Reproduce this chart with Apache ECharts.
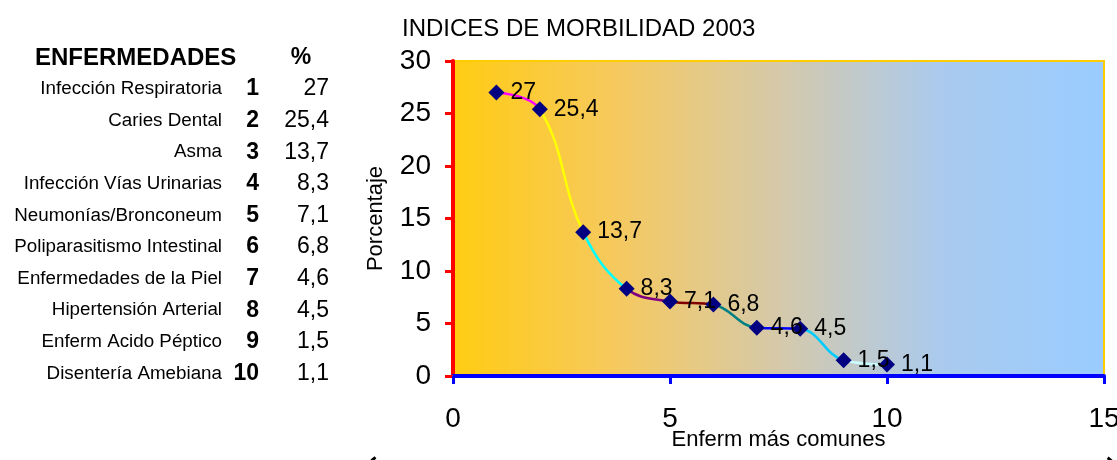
<!DOCTYPE html>
<html>
<head>
<meta charset="utf-8">
<script src="https://cdn.jsdelivr.net/npm/echarts@6/dist/echarts.min.js"></script>
<style>
    html, body { margin: 0; padding: 0; background: #fff; }
    #chart { width: 1117px; height: 460px; }
</style>
</head>
<body>
<div id="chart"></div>
<script>
// tabla de enfermedades
var enfermedades = ['Infección Respiratoria', 'Caries Dental', 'Asma', 'Infección Vías Urinarias',
    'Neumonías/Bronconeum', 'Poliparasitismo Intestinal', 'Enfermedades de la Piel',
    'Hipertensión Arterial', 'Enferm Acido Péptico', 'Disentería Amebiana'];
var rangos = [1, 2, 3, 4, 5, 6, 7, 8, 9, 10];
var porcentajes = [27, 25.4, 13.7, 8.3, 7.1, 6.8, 4.6, 4.5, 1.5, 1.1];
// colores de cada tramo de la curva
var coloresTramo = ['#FF00FF', '#FFFF00', '#00FFFF', '#800080', '#800000', '#008080', '#0000FF', '#00CCFF', '#CCFFFF'];
var xTicks = [0, 5, 10, 15];
var yTicks = [0, 5, 10, 15, 20, 25, 30];

var FONT = '"Liberation Sans", Arial, sans-serif';
function coma(v) { return String(v).replace('.', ','); }

var puntos = rangos.map(function (r, i) { return [r, porcentajes[i]]; });

// texto de la tabla
var tabla = [
    { type: 'text', x: 35, y: 58, style: { text: 'ENFERMEDADES', font: 'bold 24px ' + FONT, fill: '#000', verticalAlign: 'middle' } },
    { type: 'text', x: 301, y: 58, style: { text: '%', font: 'bold 23px ' + FONT, fill: '#000', align: 'center', verticalAlign: 'middle' } }
];
enfermedades.forEach(function (nombre, i) {
    var y = 89 + i * 31.6;
    tabla.push({ type: 'text', x: 222, y: y, style: { text: nombre, font: '18.8px ' + FONT, fill: '#000', align: 'right', verticalAlign: 'middle' } });
    tabla.push({ type: 'text', x: 259, y: y, style: { text: String(rangos[i]), font: 'bold 23px ' + FONT, fill: '#000', align: 'right', verticalAlign: 'middle' } });
    tabla.push({ type: 'text', x: 329, y: y, style: { text: coma(porcentajes[i]), font: '23px ' + FONT, fill: '#000', align: 'right', verticalAlign: 'middle' } });
});
// restos del borde redondeado
tabla.push({ type: 'arc', shape: { cx: 392, cy: 480, r: 28, startAngle: Math.PI * 1.05, endAngle: Math.PI * 1.3 }, style: { stroke: '#000', lineWidth: 3, fill: null } });
tabla.push({ type: 'arc', shape: { cx: 1090, cy: 482, r: 30, startAngle: Math.PI * 1.7, endAngle: Math.PI * 1.95 }, style: { stroke: '#000', lineWidth: 3, fill: null } });

var myChart = echarts.init(document.getElementById('chart'));
var option = {
    animation: false,
    title: {
        text: 'INDICES DE MORBILIDAD 2003',
        left: 397,
        top: 12,
        textStyle: { fontFamily: FONT, fontSize: 24, fontWeight: 'normal', color: '#000' }
    },
    grid: {
        left: 453,
        right: 13,
        top: 61,
        bottom: 84,
        outerBoundsMode: 'none',
        containLabel: false,
        show: true,
        borderColor: '#FFCC00',
        borderWidth: 2,
        backgroundColor: new echarts.graphic.LinearGradient(0, 0, 1, 0, [
            { offset: 0, color: '#FFCC11' },
            { offset: 0.25, color: '#F6C95E' },
            { offset: 0.5, color: '#D5C9AA' },
            { offset: 0.75, color: '#AACAEE' },
            { offset: 1, color: '#99CCFF' }
        ])
    },
    xAxis: {
        type: 'value',
        min: xTicks[0],
        max: xTicks[xTicks.length - 1],
        interval: 5,
        name: 'Enferm más comunes',
        nameLocation: 'middle',
        nameGap: 53,
        nameMoveOverlap: false,
        nameTextStyle: { fontFamily: FONT, fontSize: 22, color: '#000' },
        axisLine: { lineStyle: { color: '#0000FF', width: 4 } },
        axisTick: { show: true, length: 8, lineStyle: { color: '#0000FF', width: 3 } },
        axisLabel: { margin: 29, fontFamily: FONT, fontSize: 28, color: '#000' },
        splitLine: { show: false }
    },
    yAxis: {
        type: 'value',
        min: yTicks[0],
        max: yTicks[yTicks.length - 1],
        interval: 5,
        name: 'Porcentaje',
        nameLocation: 'middle',
        nameGap: 66,
        nameMoveOverlap: false,
        nameTextStyle: { fontFamily: FONT, fontSize: 22, color: '#000' },
        axisLine: { show: true, lineStyle: { color: '#FF0000', width: 4 } },
        axisTick: { show: true, length: 8, lineStyle: { color: '#FF0000', width: 3 } },
        axisLabel: { margin: 22, fontFamily: FONT, fontSize: 28, color: '#000' },
        splitLine: { show: false }
    },
    visualMap: {
        type: 'piecewise',
        show: false,
        seriesIndex: 0,
        dimension: 0,
        pieces: coloresTramo.map(function (c, i) {
            return { gte: rangos[i], lt: rangos[i + 1], color: c };
        })
    },
    series: [{
        // curva suavizada
        type: 'line',
        data: puntos,
        smooth: 0.4,
        showSymbol: false,
        lineStyle: { width: 2.5 },
        z: 2
    }, {
        // marcadores y etiquetas
        type: 'scatter',
        data: puntos,
        symbol: 'diamond',
        symbolSize: 16,
        itemStyle: { color: '#000080', opacity: 1 },
        label: {
            show: true,
            position: 'right',
            distance: 6,
            fontFamily: FONT,
            fontSize: 23,
            color: '#000',
            formatter: function (p) { return coma(p.value[1]); }
        },
        z: 3
    }],
    graphic: tabla
};
myChart.setOption(option);
</script>
</body>
</html>
